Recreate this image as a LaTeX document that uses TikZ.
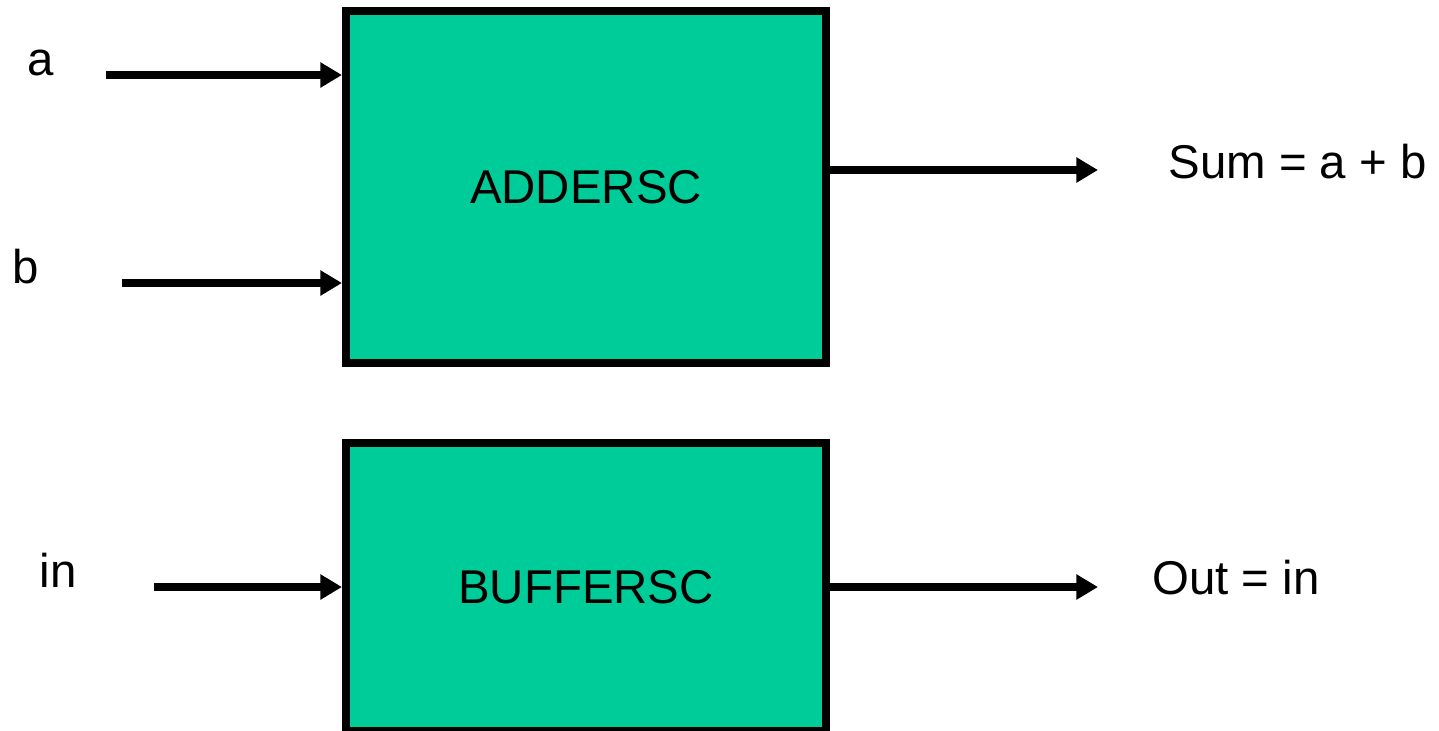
\documentclass[tikz,border=0pt]{standalone}
\usepackage{fontspec}
\setmainfont{Liberation Sans}
\usetikzlibrary{arrows.meta}
\definecolor{blockgreen}{RGB}{0,204,153}
\tikzset{
  block/.style={draw=black, line width=4pt, fill=blockgreen, minimum width=240pt, inner sep=0pt, font=\fontsize{23.7}{28}\selectfont},
  lbl/.style={font=\fontsize{23.7}{28}\selectfont, inner sep=0pt},
  wire/.style={black, line width=3.6pt, ->, >={Triangle[length=10.8pt, width=12pt]}}
}

\begin{document}
\begin{tikzpicture}[x=.5pt, y=-.5pt]
\useasboundingbox (0,0) rectangle (1439,730);
\node[block, minimum height=176pt] (adder) at (586,187) {ADDERSC};
\node[block, minimum height=144pt] (buffer) at (586,587) {BUFFERSC};
\foreach \n/\x/\y/\lx/\blk in {a/106/75/41/adder, b/122/283/26/adder, in/154/587/58/buffer} {
  \node[lbl, anchor=base] (lbl\n) at (\lx,\y) {\n};
  \coordinate (src\n) at (\x,\y);
  \draw[wire] (src\n) -- (src\n -| \blk.west);
}
\coordinate (sum) at (1098,170);
\coordinate (out) at (1098,587);
\draw[wire] (adder.east |- sum) -- (sum);
\draw[wire] (buffer.east |- out) -- (out);
\node[lbl, anchor=base west] (lblsum) at (1168,178) {Sum = a + b};
\node[lbl, anchor=base west] (lblout) at (1152,594) {Out = in};
\end{tikzpicture}
\end{document}
